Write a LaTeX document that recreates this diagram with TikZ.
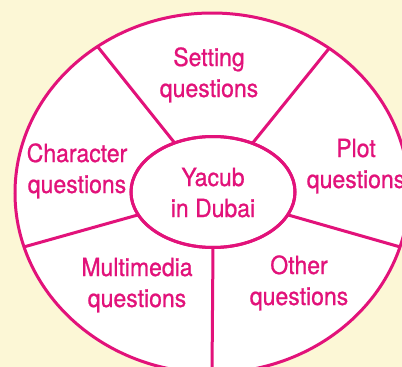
\documentclass[tikz,border=0pt]{standalone}
\usepackage{fontspec}
\setmainfont[FakeStretch=0.92,FakeBold=0.8]{TeX Gyre Heros}
\usetikzlibrary{shapes.geometric}
\definecolor{cream}{HTML}{FCF7D6}
\definecolor{berry}{HTML}{E2127A}
\begin{document}
\begin{tikzpicture}[x=1pt,y=-1pt,
  ring/.style={ellipse,draw=berry,line width=3pt,fill=white,inner sep=0pt,outer sep=0pt},
  spoke/.style={draw=berry,line width=3pt},
  label/.style={text=berry,align=center,inner sep=0pt,anchor=base,
    font=\fontsize{25}{31}\selectfont}]
  % page and background
  \fill[cream] (0,0) rectangle (402,367);
  \useasboundingbox (0,0) rectangle (402,367);
  \clip (0,0) rectangle (402,367);
  % outer wheel and centre hub
  \node[ring,minimum width=394pt,minimum height=360pt] (rim) at (212,193) {};
  \node[ring,minimum width=164pt,minimum height=111pt] (hub) at (213,192) {};
  % spokes dividing the wheel
  \draw[spoke] (hub.128) -- (rim.128.2);
  \draw[spoke] (hub.51) -- (rim.51.3);
  \draw[spoke] (hub.-17) -- (rim.-16);
  \draw[spoke] (hub.197) -- (rim.196.1);
  \draw[spoke] (hub.south) -- (rim.south);
  % redraw hub outline on top of the spoke ends
  \node[ring,fill=none,minimum width=164pt,minimum height=111pt] (hubline) at (213,192) {};
  % segment labels (anchored at the baseline of the second line)
  \node[label] (setting) at (209,97) {Setting\\questions};
  \node[label] (character) at (77,193) {Character\\questions};
  \node[label] (plot) at (356,188) {Plot\\questions};
  \node[label] (centre) at (213,217) {Yacub\\in Dubai};
  \node[label] (multi) at (137,307) {Multimedia\\questions};
  \node[label] (other) at (299,305) {Other\\questions};
\end{tikzpicture}
\end{document}
